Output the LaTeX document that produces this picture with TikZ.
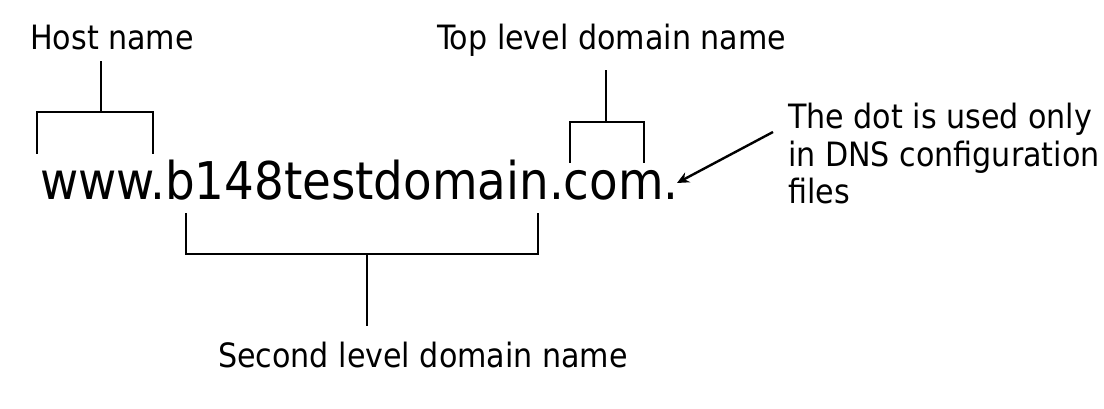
\documentclass[tikz,border=0pt]{standalone}
\usepackage{fontspec}
\setmainfont{DejaVu Sans Condensed}
\usetikzlibrary{arrows.meta}
\begin{document}
\begin{tikzpicture}[x=1pt,y=-1pt,
  lbl/.style={inner sep=0pt, anchor=base west, font=\fontsize{33.5}{37.5}\selectfont},
  brk/.style={line width=1.3pt, line cap=rect},
  arr/.style={line width=2.4pt, -{Stealth[length=12pt,width=11pt]}}]
\useasboundingbox (0,0) rectangle (1104,409);
\node[lbl] (host) at (30,50) {Host name};
\node[lbl] (tld) at (437,50) {Top level domain name};
\node[lbl, align=left] (dot) at (788,204) {The dot is used only\\in DNS configuration\\files};
\node[inner sep=0pt, anchor=base west, font=\fontsize{52}{56}\selectfont] (main) at (40,200) {www.b148testdomain.com.};
\node[lbl] (sld) at (218,367) {Second level domain name};
% host bracket
\coordinate (h1) at (101,62);
\draw[brk] (h1) -- (101,112);
\draw[brk] (37,153) -- (37,112) -- (153,112) -- (153,153);
% tld bracket
\coordinate (t1) at (606,71);
\draw[brk] (t1) -- (606,122);
\draw[brk] (570,162) -- (570,122) -- (644,122) -- (644,162);
% sld bracket
\draw[brk] (186,214) -- (186,254) -- (538,254) -- (538,214);
\draw[brk] (367,254) -- (367,325);
% arrow
\coordinate (a1) at (773,132);
\coordinate (a2) at (677,183);
\draw[arr] (a1) -- (a2);
\end{tikzpicture}
\end{document}
